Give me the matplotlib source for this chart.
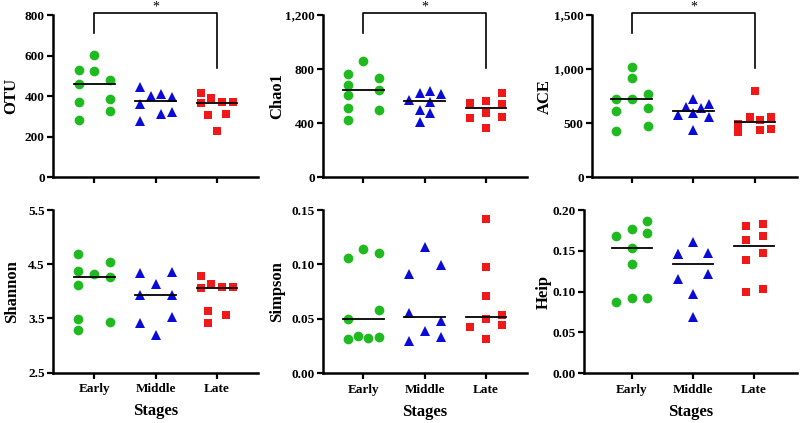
import numpy as np
import matplotlib.pyplot as plt
from matplotlib.ticker import FuncFormatter

plt.rcParams['font.family'] = ['Liberation Serif', 'DejaVu Serif']
plt.rcParams['font.weight'] = 'bold'

stages = ['Early', 'Middle', 'Late']

# OTU
otu_early = [603, 529, 525, 461, 481, 371, 384, 282, 328]
otu_middle = [447, 360, 277, 401, 412, 310, 394, 322]
otu_late = [414, 365, 389, 370, 370, 307, 312, 230]
# Chao1
chao_early = [862, 764, 737, 685, 645, 606, 510, 498, 424]
chao_middle = [572, 621, 641, 618, 559, 498, 473, 411]
chao_late = [547, 438, 566, 478, 365, 626, 542, 446]
# ACE
ace_early = [1017, 921, 724, 724, 773, 613, 643, 428, 474]
ace_middle = [721, 653, 637, 674, 573, 597, 557, 434]
ace_late = [800, 493, 416, 554, 526, 434, 554, 446]
# Shannon
sha_early = [4.69, 4.54, 4.38, 4.32, 4.27, 4.12, 3.49, 3.44, 3.29]
sha_middle = [4.33, 4.36, 4.13, 3.94, 3.94, 3.42, 3.52, 3.20]
sha_late = [4.28, 4.14, 4.06, 4.08, 4.08, 3.64, 3.56, 3.42]
# Simpson
sim_early = [0.1062, 0.1141, 0.1105, 0.0502, 0.0578, 0.0312, 0.0343, 0.0327, 0.0336]
sim_middle = [0.1157, 0.0998, 0.0912, 0.0557, 0.0477, 0.0391, 0.0336, 0.0300]
sim_late = [0.142, 0.098, 0.0707, 0.0499, 0.0535, 0.0441, 0.0425, 0.0312]
# Heip
heip_early = [0.1865, 0.1771, 0.1681, 0.1714, 0.1530, 0.1334, 0.0877, 0.0918, 0.0918]
heip_middle = [0.1612, 0.1457, 0.1477, 0.1155, 0.1212, 0.0971, 0.0693, 0.1457]
heip_late = [0.1804, 0.1828, 0.1632, 0.1681, 0.1477, 0.1387, 0.0999, 0.1028]

# horizontal scatter of the points inside each group (category units)
jit = {
    'OTU': ([0, -.25, 0, -.25, .25, -.25, .25, -.25, .25],
            [-.25, -.25, -.25, -.08, .09, .09, .26, .26],
            [-.26, -.26, -.09, .09, .26, -.14, .14, 0]),
    'Chao1': ([0, -.25, .25, -.25, .25, -.25, -.25, .25, -.25],
              [-.25, -.08, .09, .26, .09, -.08, .09, -.08],
              [-.26, -.26, 0, 0, 0, .26, .26, .26]),
    'ACE': ([0, 0, -.25, 0, .26, -.25, .26, -.25, .26],
            [0, -.125, .125, .25, -.25, 0, .25, 0],
            [0, -.27, -.27, -.09, .08, .08, .26, .26]),
    'Shannon': ([-.26, .25, -.26, 0, .25, -.26, -.26, .25, -.26],
                [-.25, .26, 0, -.25, .26, -.25, .26, 0],
                [-.26, -.09, -.26, .09, .26, -.14, .14, -.14]),
    'Simpson': ([-.25, 0, .25, -.25, .25, -.25, -.09, .08, .25],
                [0, .26, -.25, -.25, .26, 0, .26, -.25],
                [0, 0, 0, 0, .26, .26, -.26, 0]),
    'Heip': ([.25, 0, -.25, .25, 0, 0, -.25, 0, .25],
             [0, -.25, .25, -.25, .25, 0, 0, -.25],
             [-.14, .14, -.14, .14, .14, -.14, -.14, .14]),
}

panels = [
    ('OTU', (otu_early, otu_middle, otu_late), [0, 200, 400, 600, 800]),
    ('Chao1', (chao_early, chao_middle, chao_late), [0, 400, 800, 1200]),
    ('ACE', (ace_early, ace_middle, ace_late), [0, 500, 1000, 1500]),
    ('Shannon', (sha_early, sha_middle, sha_late), [2.5, 3.5, 4.5, 5.5]),
    ('Simpson', (sim_early, sim_middle, sim_late), [0.0, 0.05, 0.10, 0.15]),
    ('Heip', (heip_early, heip_middle, heip_late), [0.0, 0.05, 0.10, 0.15, 0.20]),
]

# significance brackets: (top, left leg end, right leg end)
brackets = {'OTU': (808, 710, 537), 'Chao1': (1212, 1065, 806), 'ACE': (1515, 1331, 1007)}

colors = ['#1fba1f', '#0b0bd8', '#f01818']
markers = ['o', '^', 's']
msizes = [7, 6.6, 5.6]

W, H = 800, 423
# axes boxes in pixels: left, right, top, bottom, xlim
boxes = [
    (53, 258, 15, 177.3, (-0.675, 2.67)),
    (323, 527, 15, 177.3, (-0.66, 2.67)),
    (592, 797, 15, 177.3, (-0.645, 2.68)),
    (53, 258, 210, 372.7, (-0.675, 2.67)),
    (323, 527, 210, 373.3, (-0.66, 2.67)),
    (584, 797, 210, 373.3, (-0.78, 2.70)),
]
ylab_x = [-0.205, -0.225, -0.23, -0.20, -0.225, -0.19]

fig = plt.figure(figsize=(8, 4.23), dpi=100)

for i, (name, groups, yt) in enumerate(panels):
    l, r, t, b, xl = boxes[i]
    ax = fig.add_axes([l / W, 1 - b / H, (r - l) / W, (b - t) / H])
    for g, vals in enumerate(groups):
        xs = g + np.array(jit[name][g])
        ax.plot(xs, vals, linestyle='none', marker=markers[g], ms=msizes[g],
                color=colors[g], markeredgewidth=0, clip_on=False, zorder=3)
        med = np.median(vals)
        ax.plot([g - 0.33, g + 0.33], [med, med], color='black', lw=1.3, zorder=4)
    ax.set_xlim(*xl)
    ax.set_ylim(yt[0], yt[-1])
    ax.set_yticks(yt)
    ax.set_xticks([0, 1, 2])
    if name in ('OTU', 'Chao1', 'ACE'):
        ax.yaxis.set_major_formatter(FuncFormatter(lambda v, p: '{:,.0f}'.format(v)))
        ax.set_xticklabels([])
    else:
        if name == 'Shannon':
            ax.yaxis.set_major_formatter(FuncFormatter(lambda v, p: '{:.1f}'.format(v)))
        else:
            ax.yaxis.set_major_formatter(FuncFormatter(lambda v, p: '{:.2f}'.format(v)))
        ax.set_xticklabels(stages)
        ax.set_xlabel('Stages', fontsize=12, fontweight='bold', va='center')
        ax.xaxis.set_label_coords(0.5, -0.235)
    ax.set_ylabel(name, fontsize=12, fontweight='bold', va='center')
    ax.yaxis.set_label_coords(ylab_x[i], 0.5)
    for s in ('top', 'right'):
        ax.spines[s].set_visible(False)
    for s in ('left', 'bottom'):
        ax.spines[s].set_linewidth(1.8)
    ax.tick_params(axis='both', direction='out', length=4.5, width=1.6,
                   labelsize=9.5)
    ax.tick_params(axis='y', pad=1.5)
    ax.tick_params(axis='x', pad=3)
    for lab in ax.get_xticklabels() + ax.get_yticklabels():
        lab.set_fontweight('bold')

    if name in brackets:
        top, ll, rl = brackets[name]
        ax.plot([0, 0, 2, 2], [ll, top, top, rl], color='black', lw=1.2,
                clip_on=False, zorder=5)
        ax.annotate('*', (1, top), xytext=(0, 0), textcoords='offset points',
                    ha='center', va='bottom', fontsize=10, fontweight='normal',
                    annotation_clip=False)

fig.savefig('out.png', dpi=100)
